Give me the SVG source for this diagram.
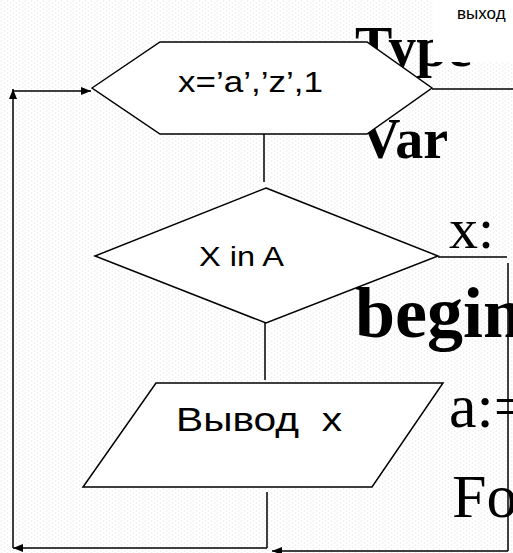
<svg xmlns="http://www.w3.org/2000/svg" width="513" height="553" viewBox="0 0 513 553">
<defs>
<pattern id="dots" width="6" height="4" patternUnits="userSpaceOnUse">
<rect width="6" height="4" fill="#ffffff"/>
<circle cx="1.5" cy="1" r="0.8" fill="#ececec"/>
<circle cx="4.5" cy="3" r="0.8" fill="#ececec"/>
</pattern>
<marker id="arr" viewBox="0 0 10 8" refX="10" refY="4" markerWidth="10" markerHeight="8" markerUnits="userSpaceOnUse" orient="auto">
<path d="M0,0 L10,4 L0,8 Z" fill="#000"/>
</marker>
<style>
.bg{font-family:"Liberation Serif","Times New Roman",serif;fill:#000}
.b{font-weight:bold}
.shape{fill:#fff;stroke:#000;stroke-width:1.5}
.lbl{font-family:"Liberation Sans",Arial,sans-serif;fill:#000}
.conn line{stroke:#000;stroke-width:1.5;fill:none}
</style>
</defs>
<rect width="513" height="553" fill="url(#dots)"/>
<g id="slide-text">
<text class="bg b" x="355" y="66" font-size="56">Type</text>
<text class="bg b" x="360" y="158" font-size="56">Var</text>
<text class="bg" x="449" y="248" font-size="58">x:</text>
<text class="bg b" x="355" y="337" font-size="72">begin</text>
<text class="bg" x="449" y="427" font-size="62">a:=</text>
<text class="bg" x="452" y="517" font-size="62">Fo</text>
</g>
<g id="exit-label">
<rect x="433" y="0" width="80" height="62" fill="#fff"/>
<text class="lbl" x="457" y="19" font-size="17">выход</text>
</g>
<g class="conn" id="connectors">
<line x1="264" y1="134" x2="264" y2="182"/>
<line x1="265" y1="323" x2="265" y2="380"/>
<line x1="267" y1="492" x2="267" y2="548"/>
<line x1="267" y1="548" x2="13" y2="548" marker-end="url(#arr)"/>
<line x1="13" y1="548" x2="13" y2="89" marker-end="url(#arr)"/>
<line x1="13" y1="91" x2="91" y2="91" marker-end="url(#arr)"/>
<line x1="432" y1="89" x2="513" y2="89"/>
<line x1="438" y1="257" x2="507" y2="257"/>
<line x1="508" y1="263" x2="508" y2="551"/>
<line x1="508" y1="551" x2="272" y2="551" marker-end="url(#arr)"/>
</g>
<g id="loop">
<polygon class="shape" points="92,88 160,42 367,42 432,88 367,134 160,134"/>
<text class="lbl" x="178" y="92" font-size="29" textLength="145" lengthAdjust="spacingAndGlyphs">x=’a’,’z’,1</text>
</g>
<g id="condition">
<polygon class="shape" points="266,188 438,256 266,323 95,256"/>
<text class="lbl" x="199" y="266" font-size="28" textLength="85" lengthAdjust="spacingAndGlyphs">X in A</text>
</g>
<g id="output">
<polygon class="shape" points="156,383 443,383 372,487 83,487"/>
<text class="lbl" x="176" y="431" font-size="33" textLength="166" lengthAdjust="spacingAndGlyphs" xml:space="preserve">Вывод  x</text>
</g>
</svg>
